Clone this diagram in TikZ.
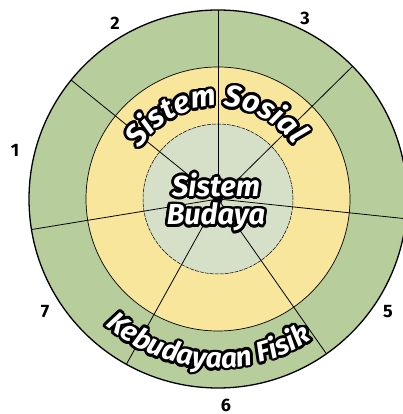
\documentclass[tikz,border=0pt]{standalone}
\usepackage{fontspec}
\setmainfont{Fira Sans}
\usetikzlibrary{decorations.text}
\definecolor{ringgreen}{HTML}{B7CD9B}
\definecolor{ringyellow}{HTML}{F8E69D}
\definecolor{corepale}{HTML}{D6E0C9}
\newcommand\topfont{\fontsize{30}{30}\selectfont\bfseries\itshape}
\newcommand\botfont{\fontsize{28}{28}\selectfont\bfseries\itshape}
\newcommand\midfont{\fontsize{29}{29}\selectfont\bfseries\itshape}
% #1 font, #2 text, #3 start angle, #4 end angle, #5 radius
\newcommand\curvedlabel[5]{%
  \foreach \ang in {0,22.5,...,337.5}{
    \path[decorate, decoration={text along path, text color=black, text={|#1|#2}, text align=center}]
      ([shift={(\ang:2.6)}, shift={(#3:#5)}]c) arc[start angle=#3, end angle=#4, radius=#5];
  }
  \path[decorate, decoration={text along path, text color=white, text={|#1|#2}, text align=center}]
    ([shift={(#3:#5)}]c) arc[start angle=#3, end angle=#4, radius=#5];
}
\newcommand\outlinedtext[3]{%
  \foreach \ang in {0,22.5,...,337.5}{
    \node[font=\midfont, text=black, inner sep=0] at ([shift={(\ang:2.6)}]#2) {#3};
  }
  \node[font=\midfont, text=white, inner sep=0] (#1) at (#2) {#3};
}
\begin{document}
\begin{tikzpicture}[x=1pt,y=1pt,
  num/.style={font=\fontsize{18}{18}\selectfont\bfseries, text=black, inner sep=0},
  spoke/.style={line width=0.8pt, black}]
\useasboundingbox (0,0) rectangle (403,414);
\coordinate (c) at (218,215);
% rings
\fill[ringgreen] (c) circle[radius=189];
\fill[ringyellow] (c) circle[radius=132];
\draw[black, line width=0.7pt] (c) circle[radius=132];
\fill[corepale] (c) circle[radius=75];
\draw[black, line width=0.5pt, dash pattern=on 4pt off 1pt] (c) circle[radius=75];
% spokes
\foreach \a [count=\i] in {90,44.6,-6,-55,-119,189.3,141}
  \draw[spoke] (c) -- ++(\a:189) coordinate (s\i);
\draw[black, line width=1.3pt] (c) circle[radius=189];
\fill[black] (c) circle[radius=5];
% curved labels
\curvedlabel{\topfont}{Sistem Sosial}{165}{18}{93}
\curvedlabel{\botfont}{Kebudayaan Fisik}{212}{320}{169}
% centre labels
\outlinedtext{sistem}{216,229}{Sistem}
\outlinedtext{budaya}{216,197}{Budaya}
% numbers
\node[num] (n1) at (15,264) {1};
\node[num] (n2) at (115,391) {2};
\node[num] (n3) at (305,396) {3};
\node[num] (n4) at (409,289) {4};
\node[num] (n5) at (388,102) {5};
\node[num] (n6) at (226,9) {6};
\node[num] (n7) at (45,102) {7};
\end{tikzpicture}
\end{document}
